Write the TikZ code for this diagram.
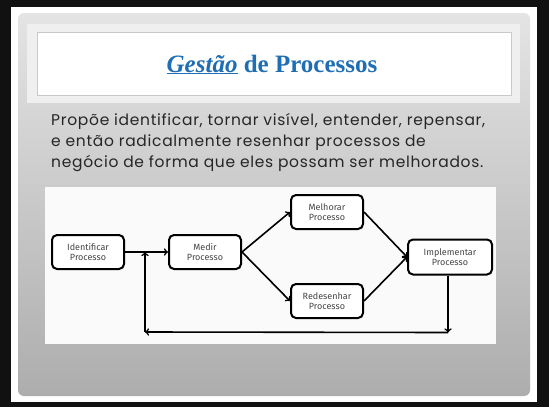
\documentclass[tikz,border=0pt]{standalone}
\usepackage{fontspec}
\setmainfont{Liberation Serif}
\newfontfamily\bodyfont[LetterSpace=4.5]{Poppins}
\newfontfamily\boxfont{Fira Sans}
\definecolor{frame}{HTML}{111111}
\definecolor{slidetop}{HTML}{E4E4E4}
\definecolor{slidebot}{HTML}{ADADAD}
\definecolor{titleband}{HTML}{EFEFEF}
\definecolor{titleln}{HTML}{C9C9C9}
\definecolor{titleblue}{HTML}{1F6EB4}
\definecolor{bodytxt}{HTML}{262626}
\definecolor{boxtxt}{HTML}{444444}
\definecolor{chartbg}{HTML}{FAFAFA}
\usetikzlibrary{calc}

\begin{document}
\begin{tikzpicture}[
      x=1pt,y=-1pt,
      pbox/.style={draw=black,fill=white,line width=2pt,rounded corners=5pt,
        minimum width=72pt,minimum height=34pt,inner sep=1pt,align=center,
        font=\boxfont\fontsize{9}{10.5}\selectfont,text=boxtxt},
      flow/.style={->,line width=1.6pt,black},
    ]
    \useasboundingbox (0,0) rectangle (549,407);
    \fill[frame] (0,0) rectangle (549,407);
    % slide
    \fill[white] (11,7) rectangle (537,402);
    \shade[top color=slidetop,bottom color=slidebot,rounded corners=6pt] (18,13) rectangle (530,396);
    \fill[titleband] (27,24) rectangle (520,103);
    \draw[titleln,fill=white,line width=0.8pt] (37,32) rectangle (511,95);
    \node[font=\fontsize{25}{30}\selectfont\bfseries,text=titleblue,anchor=base] (title) at (272,72)
      {\underline{\textit{Gestão}} de Processos};
    \node[font=\bodyfont\fontsize{15.5}{21}\selectfont,text=bodytxt,anchor=base west,align=left,inner sep=0pt] (intro) at (51,167)
      {Propõe identificar, tornar visível, entender, repensar,\\
       e então radicalmente resenhar processos de\\
       negócio de forma que eles possam ser melhorados.};
    % diagram
    \fill[chartbg] (45,187) rectangle (496,344);
    \node[pbox] (ident) at (88,252) {Identificar\\Processo};
    \node[pbox] (medir) at (205,252) {Medir\\Processo};
    \node[pbox] (melhorar) at (327,212) {Melhorar\\Processo};
    \node[pbox] (redes) at (327,301) {Redesenhar\\Processo};
    \node[pbox,minimum width=84pt,minimum height=35pt] (impl) at (450,257) {Implementar\\Processo};
    \coordinate (downR) at ($(impl.south)+(-2,57)$);
    \coordinate (downL) at (145,332);
    \coordinate (upL) at (145,252);
    \draw[flow] (ident) -- (medir);
    \draw[flow] (medir.east) -- (melhorar.west);
    \draw[flow] (medir.east) -- (redes.west);
    \draw[flow] (melhorar.east) -- (impl.west);
    \draw[flow] (redes.east) -- (impl.west);
    \draw[flow] ($(impl.south)+(-2,0)$) -- (downR);
    \draw[flow] (downR) -- (downL);
    \draw[flow] (downL) -- (upL);
\end{tikzpicture}
\end{document}
